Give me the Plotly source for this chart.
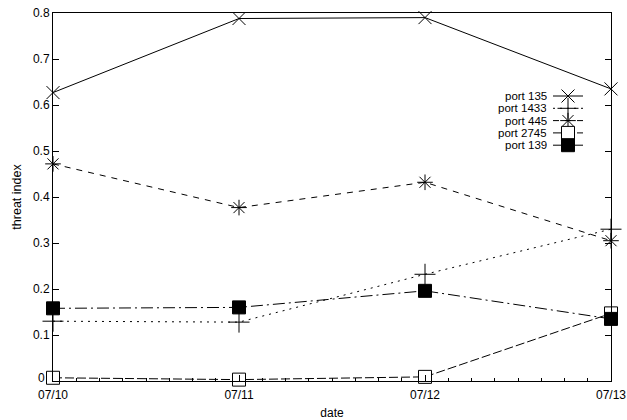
import plotly.graph_objects as go

dates = ["2004-07-10", "2004-07-11", "2004-07-12", "2004-07-13"]
tick_labels = ["07/10", "07/11", "07/12", "07/13"]
series_names = ["port 135", "port 1433", "port 445", "port 2745", "port 139"]
port135 = [0.627, 0.788, 0.790, 0.635]
port1433 = [0.130, 0.128, 0.232, 0.330]
port445 = [0.472, 0.377, 0.432, 0.305]
port2745 = [0.007, 0.003, 0.009, 0.147]
port139 = [0.158, 0.160, 0.196, 0.135]
y_ticks = [0, 0.1, 0.2, 0.3, 0.4, 0.5, 0.6, 0.7, 0.8]
y_tick_labels = ["0", "0.1", "0.2", "0.3", "0.4", "0.5", "0.6", "0.7", "0.8"]

values = [port135, port1433, port445, port2745, port139]
styles = [
    dict(symbol="x-thin", size=13, dash="solid", fill="#000000"),
    dict(symbol="cross-thin", size=15, dash="2px,5px", fill="#000000"),
    dict(symbol="asterisk", size=13, dash="6px,6px", fill="#000000"),
    dict(symbol="square", size=13, dash="9px,3px", fill="#ffffff"),
    dict(symbol="square", size=13, dash="12px,4px,2px,4px", fill="#000000"),
]

FONT = "Liberation Sans, Arial, Helvetica, sans-serif"
fig = go.Figure()

for name, vals, st in zip(series_names, values, styles):
    fig.add_trace(go.Scatter(
        x=dates, y=vals, mode="lines+markers", name=name, showlegend=False,
        line=dict(color="#000000", width=1, dash=st["dash"]),
        marker=dict(symbol=st["symbol"], size=st["size"], color=st["fill"],
                    line=dict(color="#000000", width=1)),
        cliponaxis=False,
    ))

# gnuplot-style key (text left, sample right) on an overlay axis in page-pixel units
key_x0, key_x1, key_text_x = 553, 583, 548
key_y0, key_dy = 96, 12.3
for i, (name, st) in enumerate(zip(series_names, styles)):
    yy = key_y0 + i * key_dy
    fig.add_trace(go.Scatter(
        x=[key_x0, key_x1], y=[yy, yy], xaxis="x2", yaxis="y2", mode="lines",
        line=dict(color="#000000", width=1, dash=st["dash"]), showlegend=False, hoverinfo="skip",
        cliponaxis=False,
    ))
    fig.add_trace(go.Scatter(
        x=[(key_x0 + key_x1) / 2], y=[yy], xaxis="x2", yaxis="y2", mode="markers",
        marker=dict(symbol=st["symbol"], size=st["size"], color=st["fill"],
                    line=dict(color="#000000", width=1)),
        showlegend=False, hoverinfo="skip", cliponaxis=False,
    ))
    fig.add_annotation(x=key_text_x, y=yy, xref="x2", yref="y2", text=name, showarrow=False,
                       xanchor="right", yanchor="middle", height=12, borderpad=0,
                       font=dict(family=FONT, size=11.5, color="#000"))

# the lowest y tick label is drawn as an annotation (plotly hides it at the axis corner)
fig.add_annotation(x=0, y=y_ticks[0], xref="paper", yref="y", text=y_tick_labels[0], showarrow=False,
                   xanchor="right", yanchor="middle", xshift=-7, yshift=3, borderpad=0,
                   font=dict(family=FONT, size=12, color="#000"))

fig.update_layout(
    width=627, height=420, autosize=False,
    margin=dict(l=53, r=16, t=13, b=39, pad=0, autoexpand=False),
    paper_bgcolor="white", plot_bgcolor="white",
    font=dict(family=FONT, size=12, color="#000000"),
    xaxis=dict(
        type="date", range=[dates[0], dates[-1]], tickvals=dates, ticktext=tick_labels,
        ticks="inside", ticklen=6, tickcolor="#000", showline=True, linecolor="#000", linewidth=1,
        mirror=True, showgrid=False, zeroline=False, automargin=False,
        ticklabeloverflow="allow", ticklabelstandoff=3,
        minor=dict(dtick=3 * 3600 * 1000, ticks="inside", ticklen=3, tickcolor="#000"),
        title=dict(text="date", font=dict(size=12), standoff=7),
        tickfont=dict(size=12),
    ),
    yaxis=dict(
        range=[0, 0.8], ticks="inside", ticklen=6, tickcolor="#000",
        showline=True, linecolor="#000", linewidth=1, mirror="ticks", showgrid=False, zeroline=False,
        automargin=False, ticklabeloverflow="allow",
        title=dict(text="threat index", font=dict(size=12.5), standoff=8),
        tickfont=dict(size=12),
        tickvals=y_ticks, ticktext=[""] + y_tick_labels[1:],
    ),
    xaxis2=dict(overlaying="x", range=[53, 611], visible=False),
    yaxis2=dict(overlaying="y", range=[381, 13], visible=False),
)

# remove the default 8px page margin so the 627x420 figure fills the window exactly
fig.write_html("out.html", config={"displayModeBar": False},
               post_script="document.body.style.margin='0';document.body.style.overflow='hidden';")
